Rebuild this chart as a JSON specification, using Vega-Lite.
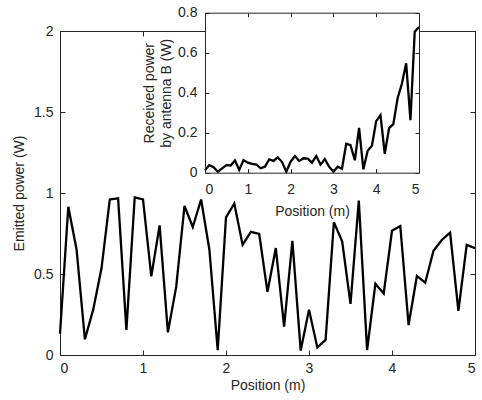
{
  "$schema": "https://vega.github.io/schema/vega-lite/v6.json",
  "width": 415,
  "height": 324,
  "autosize": "none",
  "padding": {"left": 60, "top": 31, "right": 7, "bottom": 45},
  "background": "white",
  "config": {
    "view": {"stroke": null},
    "axis": {
      "labelFont": "Liberation Sans",
      "titleFont": "Liberation Sans",
      "labelFontSize": 14,
      "titleFontSize": 14,
      "labelColor": "#262626",
      "titleColor": "#262626",
      "domainColor": "#262626",
      "tickColor": "#262626",
      "titleFontWeight": "normal",
      "grid": false,
      "domainWidth": 1,
      "tickWidth": 1
    }
  },
  "datasets": {
    "main": [
      {"x": 0.0, "y": 0.13}, {"x": 0.1, "y": 0.915}, {"x": 0.2, "y": 0.65}, {"x": 0.3, "y": 0.097},
      {"x": 0.4, "y": 0.28}, {"x": 0.5, "y": 0.535}, {"x": 0.6, "y": 0.96}, {"x": 0.7, "y": 0.967},
      {"x": 0.8, "y": 0.155}, {"x": 0.9, "y": 0.973}, {"x": 1.0, "y": 0.96}, {"x": 1.1, "y": 0.485},
      {"x": 1.2, "y": 0.8}, {"x": 1.3, "y": 0.14}, {"x": 1.4, "y": 0.42}, {"x": 1.5, "y": 0.92},
      {"x": 1.6, "y": 0.79}, {"x": 1.7, "y": 0.96}, {"x": 1.8, "y": 0.65}, {"x": 1.9, "y": 0.03},
      {"x": 2.0, "y": 0.85}, {"x": 2.1, "y": 0.935}, {"x": 2.2, "y": 0.68}, {"x": 2.3, "y": 0.76},
      {"x": 2.4, "y": 0.747}, {"x": 2.5, "y": 0.39}, {"x": 2.6, "y": 0.66}, {"x": 2.7, "y": 0.175},
      {"x": 2.8, "y": 0.705}, {"x": 2.9, "y": 0.027}, {"x": 3.0, "y": 0.28}, {"x": 3.1, "y": 0.047},
      {"x": 3.2, "y": 0.093}, {"x": 3.3, "y": 0.82}, {"x": 3.4, "y": 0.7}, {"x": 3.5, "y": 0.315},
      {"x": 3.6, "y": 0.953}, {"x": 3.7, "y": 0.03}, {"x": 3.8, "y": 0.44}, {"x": 3.9, "y": 0.38},
      {"x": 4.0, "y": 0.767}, {"x": 4.1, "y": 0.796}, {"x": 4.2, "y": 0.185}, {"x": 4.3, "y": 0.488},
      {"x": 4.4, "y": 0.446}, {"x": 4.5, "y": 0.644}, {"x": 4.6, "y": 0.71}, {"x": 4.7, "y": 0.755},
      {"x": 4.8, "y": 0.273}, {"x": 4.9, "y": 0.68}, {"x": 5.0, "y": 0.66}
    ],
    "inset": [
      {"x": 0.0, "y": 0.012}, {"x": 0.1, "y": 0.038}, {"x": 0.2, "y": 0.027}, {"x": 0.3, "y": 0.005},
      {"x": 0.4, "y": 0.022}, {"x": 0.5, "y": 0.038}, {"x": 0.6, "y": 0.036}, {"x": 0.7, "y": 0.062},
      {"x": 0.8, "y": 0.014}, {"x": 0.9, "y": 0.063}, {"x": 1.0, "y": 0.05}, {"x": 1.1, "y": 0.044},
      {"x": 1.2, "y": 0.041}, {"x": 1.3, "y": 0.022}, {"x": 1.4, "y": 0.03}, {"x": 1.5, "y": 0.067},
      {"x": 1.6, "y": 0.059}, {"x": 1.7, "y": 0.077}, {"x": 1.8, "y": 0.053}, {"x": 1.9, "y": 0.005},
      {"x": 2.0, "y": 0.055}, {"x": 2.1, "y": 0.083}, {"x": 2.2, "y": 0.058}, {"x": 2.3, "y": 0.072},
      {"x": 2.4, "y": 0.07}, {"x": 2.5, "y": 0.05}, {"x": 2.6, "y": 0.083}, {"x": 2.7, "y": 0.04},
      {"x": 2.8, "y": 0.068}, {"x": 2.9, "y": 0.03}, {"x": 3.0, "y": 0.005}, {"x": 3.1, "y": 0.03},
      {"x": 3.2, "y": 0.02}, {"x": 3.3, "y": 0.145}, {"x": 3.4, "y": 0.138}, {"x": 3.5, "y": 0.062},
      {"x": 3.6, "y": 0.224}, {"x": 3.7, "y": 0.017}, {"x": 3.8, "y": 0.11}, {"x": 3.9, "y": 0.135},
      {"x": 4.0, "y": 0.258}, {"x": 4.1, "y": 0.288}, {"x": 4.2, "y": 0.095}, {"x": 4.3, "y": 0.222},
      {"x": 4.4, "y": 0.243}, {"x": 4.5, "y": 0.372}, {"x": 4.6, "y": 0.445}, {"x": 4.7, "y": 0.547},
      {"x": 4.8, "y": 0.263}, {"x": 4.9, "y": 0.705}, {"x": 5.0, "y": 0.728}
    ],
    "box": [{"x0": 0, "x1": 5, "y0": 0, "y1": 0.8}]
  },
  "layer": [
    {
      "data": {"name": "main"},
      "mark": {"type": "line", "color": "black", "strokeWidth": 2.3},
      "encoding": {
        "x": {"field": "x", "type": "quantitative",
          "scale": {"domain": [0, 5], "nice": false, "zero": false},
          "axis": {"orient": "bottom", "values": [0, 1, 2, 3, 4, 5], "format": "~g", "tickSize": -5, "labelPadding": 11, "title": "Position (m)", "titlePadding": 3}},
        "y": {"field": "y", "type": "quantitative",
          "scale": {"domain": [0, 2], "nice": false, "zero": false},
          "axis": {"orient": "left", "values": [0, 0.5, 1, 1.5, 2], "format": "~g", "tickSize": -5, "labelPadding": 12, "title": "Emitted power (W)", "titlePadding": 7}}
      }
    },
    {
      "data": {"name": "main"},
      "mark": {"type": "point", "opacity": 0},
      "encoding": {
        "x": {"field": "x", "type": "quantitative",
          "scale": {"domain": [0, 5], "nice": false, "zero": false},
          "axis": {"orient": "top", "values": [0, 1, 2, 3, 4, 5], "tickSize": -5, "labels": false, "title": null}},
        "y": {"field": "y", "type": "quantitative",
          "scale": {"domain": [0, 2], "nice": false, "zero": false},
          "axis": {"orient": "right", "values": [0, 0.5, 1, 1.5, 2], "tickSize": -5, "labels": false, "title": null}}
      }
    },
    {
      "data": {"name": "box"},
      "mark": {"type": "rect", "fill": "white", "stroke": null},
      "encoding": {
        "x": {"field": "x0", "type": "quantitative",
          "scale": {"domain": [0, 5], "nice": false, "zero": false, "range": [145, 359]},
          "axis": {"orient": "bottom", "offset": -182.3, "zindex": 1, "values": [0, 1, 2, 3, 4, 5], "format": "~g", "tickSize": -4, "labelPadding": 14, "title": "Position (m)", "titlePadding": 8}},
        "x2": {"field": "x1"},
        "y": {"field": "y0", "type": "quantitative",
          "scale": {"domain": [0, 0.8], "nice": false, "zero": false, "range": [141.7, -18.3]},
          "axis": {"orient": "left", "offset": -145, "zindex": 1, "values": [0, 0.2, 0.4, 0.6, 0.8], "format": "~g", "tickSize": -4, "labelPadding": 12, "title": ["Received power", "by antenna B (W)"], "titleLineHeight": 17, "titlePadding": 4}},
        "y2": {"field": "y1"}
      }
    },
    {
      "data": {"name": "inset"},
      "mark": {"type": "line", "color": "black", "strokeWidth": 2.3},
      "encoding": {
        "x": {"field": "x", "type": "quantitative",
          "scale": {"domain": [0, 5], "nice": false, "zero": false, "range": [145, 359]},
          "axis": {"orient": "top", "offset": 18.3, "zindex": 1, "values": [0, 1, 2, 3, 4, 5], "tickSize": -4, "labels": false, "title": null}},
        "y": {"field": "y", "type": "quantitative",
          "scale": {"domain": [0, 0.8], "nice": false, "zero": false, "range": [141.7, -18.3]},
          "axis": {"orient": "right", "offset": -56, "zindex": 1, "values": [0, 0.2, 0.4, 0.6, 0.8], "tickSize": -4, "labels": false, "title": null}}
      }
    }
  ],
  "resolve": {
    "scale": {"x": "independent", "y": "independent"},
    "axis": {"x": "independent", "y": "independent"}
  }
}
